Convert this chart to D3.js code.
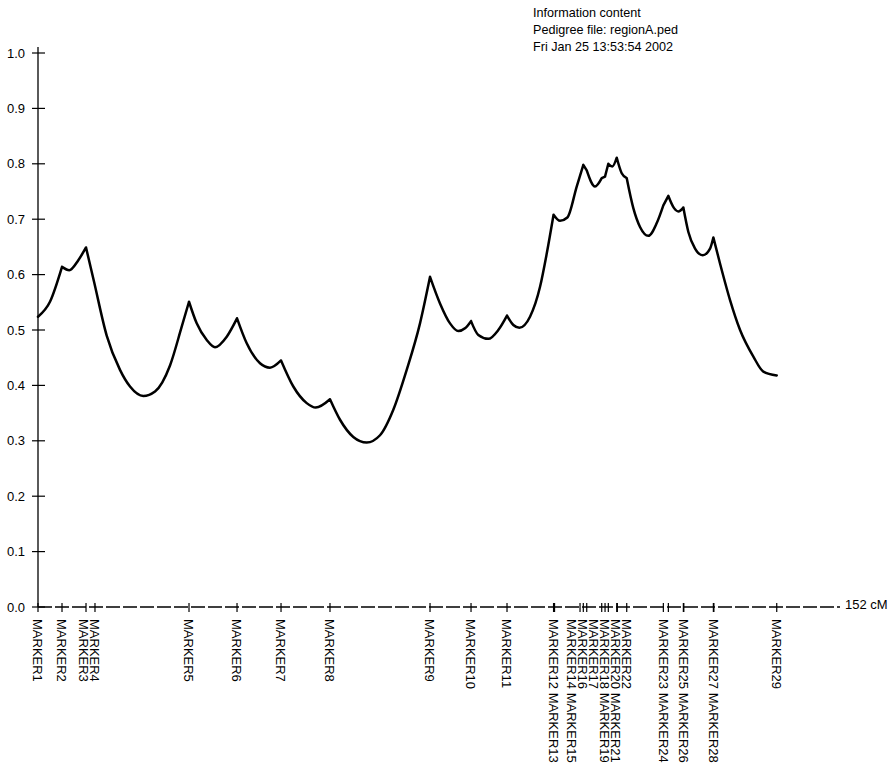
<!DOCTYPE html>
<html>
<head>
<meta charset="utf-8">
<script src="https://cdn.jsdelivr.net/npm/d3@7/dist/d3.min.js"></script>
<style>
  html, body { margin: 0; padding: 0; background: #fff; }
  svg { display: block; font-family: "Liberation Sans", Arial, Helvetica, sans-serif; }
</style>
</head>
<body>
<svg id="chart" width="892" height="764"></svg>
<script>
// ── data ──
const titleLines = ["Information content", "Pedigree file: regionA.ped", "Fri Jan 25 13:53:54 2002"];
const mapLength = 152; // cM
const yTicks = [0, 0.1, 0.2, 0.3, 0.4, 0.5, 0.6, 0.7, 0.8, 0.9, 1.0];

const markerNames = d3.range(1, 30).map((i) => "MARKER" + i);
const markerCM = [
  0, 4.55, 9.1, 10.8, 28.62, 37.72, 46.06, 55.34, 74.3, 82.07, 88.89,
  97.71, 97.9, 102.73, 103.35, 104.0, 106.84, 107.47, 108.09, 109.69, 109.8,
  111.58, 118.52, 119.47, 122.31, 122.4, 128.0, 128.1, 140.01,
];
// markers that share one label column (indices into markerNames)
const labelGroups = [
  [0], [1], [2], [3], [4], [5], [6], [7], [8], [9], [10],
  [11, 12], [13, 14], [15], [16], [17, 18], [19, 20], [21],
  [22, 23], [24, 25], [26, 27], [28],
];

// information content curve
const curveCM = [
  0, 2.27, 4.55, 5.93, 7.64, 9.1, 10.6, 13.02, 15.54, 17.44, 19.96, 22.18, 25.02, 27.24,
  28.62, 30.08, 31.98, 33.55, 35.77, 37.72, 39.56, 42.08, 43.97, 46.06, 48.39, 50.93, 52.63,
  55.34, 57.24, 59.76, 62.3, 64.82, 67.34, 69.88, 72.4, 74.3, 76.19, 78.09, 79.66, 80.93,
  82.07, 83.45, 85.35, 87.24, 88.89, 90.09, 91.23, 93.25, 95.15, 96.42, 97.71, 98.94, 100.32,
  102.1, 103.35, 104.0, 105.57, 106.84, 107.47, 108.09, 108.85, 109.69, 110.63, 111.58,
  112.83, 114.1, 115.67, 117.27, 118.52, 119.47, 120.55, 121.36, 122.31, 123.26, 124.53,
  125.98, 127.37, 128.0, 129.26, 131.16, 133.06, 135.58, 137.47, 140.01,
];
const curveValue = [
  0.524, 0.551, 0.614, 0.608, 0.626, 0.649, 0.588, 0.49, 0.428, 0.398, 0.381, 0.389, 0.436, 0.506,
  0.551, 0.512, 0.482, 0.469, 0.488, 0.521, 0.476, 0.44, 0.432, 0.445, 0.398, 0.368, 0.36,
  0.375, 0.338, 0.307, 0.297, 0.31, 0.356, 0.428, 0.512, 0.596, 0.548, 0.512, 0.498, 0.503,
  0.516, 0.491, 0.484, 0.5, 0.526, 0.509, 0.504, 0.524, 0.578, 0.638, 0.708, 0.697, 0.703,
  0.759, 0.798, 0.788, 0.759, 0.774, 0.777, 0.8, 0.795, 0.811, 0.783, 0.774,
  0.72, 0.686, 0.67, 0.693, 0.725, 0.742, 0.72, 0.714, 0.721, 0.677, 0.647,
  0.635, 0.647, 0.667, 0.62, 0.554, 0.5, 0.452, 0.425, 0.418,
];

// ── layout ──
const svg = d3.select("#chart");
const x = d3.scaleLinear().domain([0, mapLength]).range([38, 840]);
const y = d3.scaleLinear().domain([0, 1]).range([607, 53]);
const font = 13;

/* title block */
svg.append("g")
  .selectAll("text")
  .data(titleLines)
  .join("text")
  .attr("x", 533)
  .attr("y", (d, i) => 17 + i * 17)
  .attr("font-size", 12.6)
  .attr("fill", "#000")
  .text((d) => d);

/* y axis */
const yAxis = svg.append("g");
yAxis.append("line")
  .attr("x1", x(0)).attr("x2", x(0))
  .attr("y1", y(0)).attr("y2", y(1) - 6)
  .attr("stroke", "#000").attr("stroke-width", 1.3);
yAxis.selectAll("line.tick")
  .data(yTicks)
  .join("line")
  .attr("class", "tick")
  .attr("x1", x(0) - 6).attr("x2", x(0) + 7)
  .attr("y1", (d) => y(d)).attr("y2", (d) => y(d))
  .attr("stroke", "#000").attr("stroke-width", 1.2);
yAxis.selectAll("text")
  .data(yTicks)
  .join("text")
  .attr("x", 25)
  .attr("y", (d) => y(d))
  .attr("dy", "0.36em")
  .attr("text-anchor", "end")
  .attr("font-size", font)
  .text((d) => d.toFixed(1));

/* x axis (map) */
const xAxis = svg.append("g");
xAxis.append("line")
  .attr("x1", x(0)).attr("x2", x(mapLength))
  .attr("y1", y(0)).attr("y2", y(0))
  .attr("stroke", "#000").attr("stroke-width", 1.6)
  .attr("stroke-dasharray", "14,3");
xAxis.selectAll("line.tick")
  .data(markerCM)
  .join("line")
  .attr("class", "tick")
  .attr("x1", (d) => x(d)).attr("x2", (d) => x(d))
  .attr("y1", y(0) - 4).attr("y2", y(0) + 5)
  .attr("stroke", "#000").attr("stroke-width", 1.2);
xAxis.append("text")
  .attr("x", x(mapLength) + 5)
  .attr("y", y(0) + 2)
  .attr("font-size", font)
  .text(mapLength + " cM");

/* marker labels: one rotated column per group, pushed apart right-to-left */
const gap = 11;
const cols = labelGroups.map((g) => ({
  text: g.map((i) => markerNames[i]).join(" "),
  px: x(markerCM[g[0]]),
}));
for (let i = cols.length - 2; i >= 0; i--) {
  cols[i].px = Math.min(cols[i].px, cols[i + 1].px - gap);
}
svg.append("g")
  .selectAll("text")
  .data(cols)
  .join("text")
  .attr("transform", (d) => `translate(${d.px},619) rotate(90)`)
  .attr("dy", "0.36em")
  .attr("font-size", font)
  .text((d) => d.text);

/* curve: smooth between markers, cusps at marker positions */
const pts = curveCM.map((c, i) => [c, curveValue[i]]);
const isCusp = (c) => markerCM.includes(c);
const line = d3.line()
  .x((d) => x(d[0]))
  .y((d) => y(d[1]))
  .curve(d3.curveMonotoneX);
let pathD = "";
let start = 0;
for (let i = 1; i < pts.length; i++) {
  if (isCusp(pts[i][0]) || i === pts.length - 1) {
    pathD += line(pts.slice(start, i + 1));
    start = i;
  }
}
svg.append("path")
  .attr("d", pathD)
  .attr("fill", "none")
  .attr("stroke", "#000")
  .attr("stroke-width", 2.5)
  .attr("stroke-linejoin", "round")
  .attr("stroke-linecap", "round");
</script>
</body>
</html>
